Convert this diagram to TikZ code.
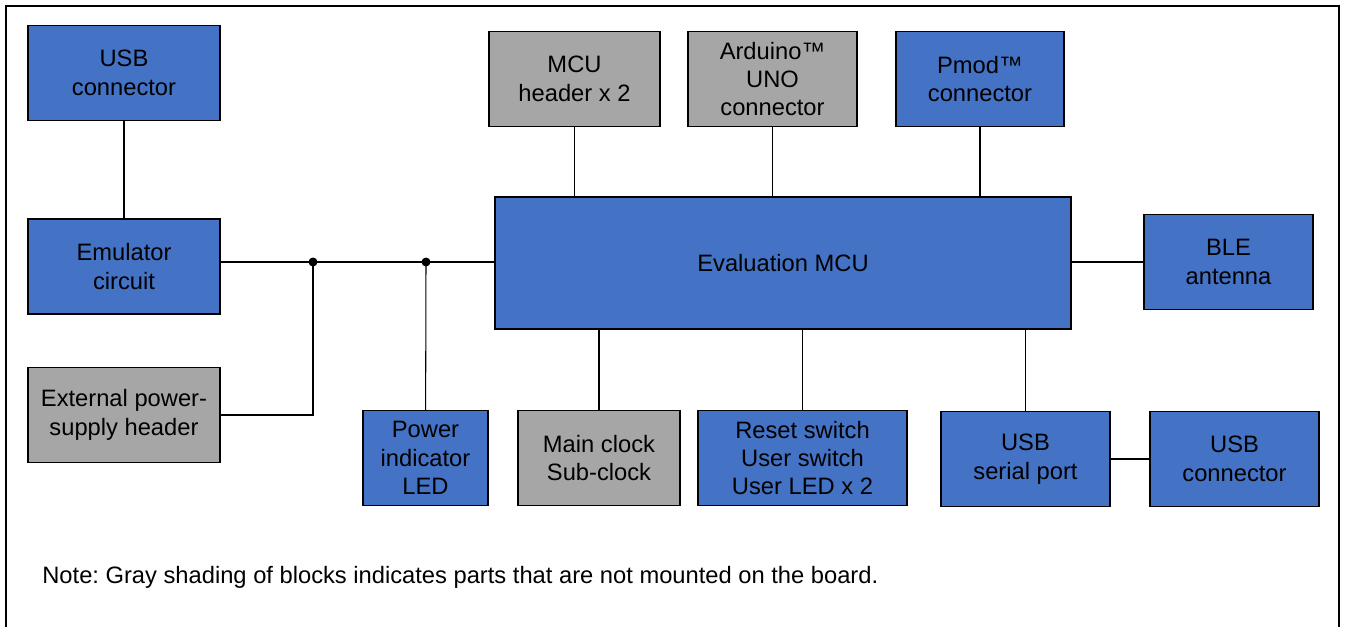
\documentclass[tikz,border=0pt]{standalone}
\usepackage{fontspec}
\setmainfont{Liberation Sans}
\usepackage{tikz}
\definecolor{blkblue}{HTML}{4472C4}
\definecolor{blkgray}{HTML}{A6A6A6}

\begin{document}
\frenchspacing
\begin{tikzpicture}[x=0.02cm, y=-0.02cm, every node/.style={font=\fontsize{13.5}{16.2}\selectfont}]
\tikzset{block/.style = {shape=rectangle, draw, line width=0.8pt, fill=blkblue, align=center, inner sep=0pt, minimum height=1.9cm}}
\tikzset{grayblock/.style = {block, fill=blkgray}}
\tikzset{edge/.style = {line width=0.6pt}}
\tikzset{dot/.style = {circle, fill, inner sep=0pt, minimum size=0.18cm}}
\useasboundingbox (0,0) rectangle (1346,626);
\draw[line width=1.3pt] (6,6) rectangle (1339,640);
% main
\node[block, minimum width=3.84cm] (usbA) at (124,73) {USB\\connector};
\node[block, minimum width=3.84cm] (emu) at (124,266.5) {Emulator\\circuit};
\node[grayblock, minimum width=3.84cm] (ext) at (124,415) {External power-\\supply header};
\node[block, minimum width=11.52cm, minimum height=2.64cm] (mcu) at (783,263) {Evaluation MCU};

\node[grayblock, minimum width=3.42cm] (hdr) at (574.5,79) {MCU\\header x 2};
\node[grayblock, minimum width=3.38cm] (ard) at (772.5,79) {Arduino™\\UNO\\connector};
\node[block, minimum width=3.36cm] (pmod) at (980,79) {Pmod™\\connector};
\node[block, minimum width=3.38cm] (ble) at (1228.5,262) {BLE\\antenna};

\node[block, minimum width=2.5cm] (led) at (425.5,458) {Power\\indicator\\LED};
\node[grayblock, minimum width=3.24cm] (clk) at (599,458) {Main clock\\Sub-clock};
\node[block, minimum width=4.18cm] (rst) at (802.5,458) {Reset switch\\User switch\\User LED x 2};
\node[block, minimum width=3.38cm] (ser) at (1025.5,459) {USB\\serial port};
\node[block, minimum width=3.38cm] (usbB) at (1234.5,459) {USB\\connector};

\node[anchor=west, inner sep=0pt] (note) at (42,577) {Note: Gray shading of blocks indicates parts that are not mounted on the board.};

\coordinate (j1) at (313,262);
\coordinate (j2) at (426,262);

%edges
\draw[edge] (usbA) to (emu);
\draw[edge] (emu.east |- j1) -- (j1) -- (j2) -- (mcu.west |- j1);
\draw[edge] (j1) |- (ext.east);
\draw[edge] (j2) to (led);
\draw[edge] (hdr) to (hdr |- mcu.north);
\draw[edge] (ard) to (ard |- mcu.north);
\draw[edge] (pmod) to (pmod |- mcu.north);
\draw[edge] (mcu.east |- ble) to (ble);
\draw[edge] (mcu.south -| clk) to (clk);
\draw[edge] (mcu.south -| rst) to (rst);
\draw[edge] (mcu.south -| ser) to (ser);
\draw[edge] (ser) to (usbB);
\node[dot] at (j1) {};
\node[dot] at (j2) {};

\end{tikzpicture}
\end{document}
